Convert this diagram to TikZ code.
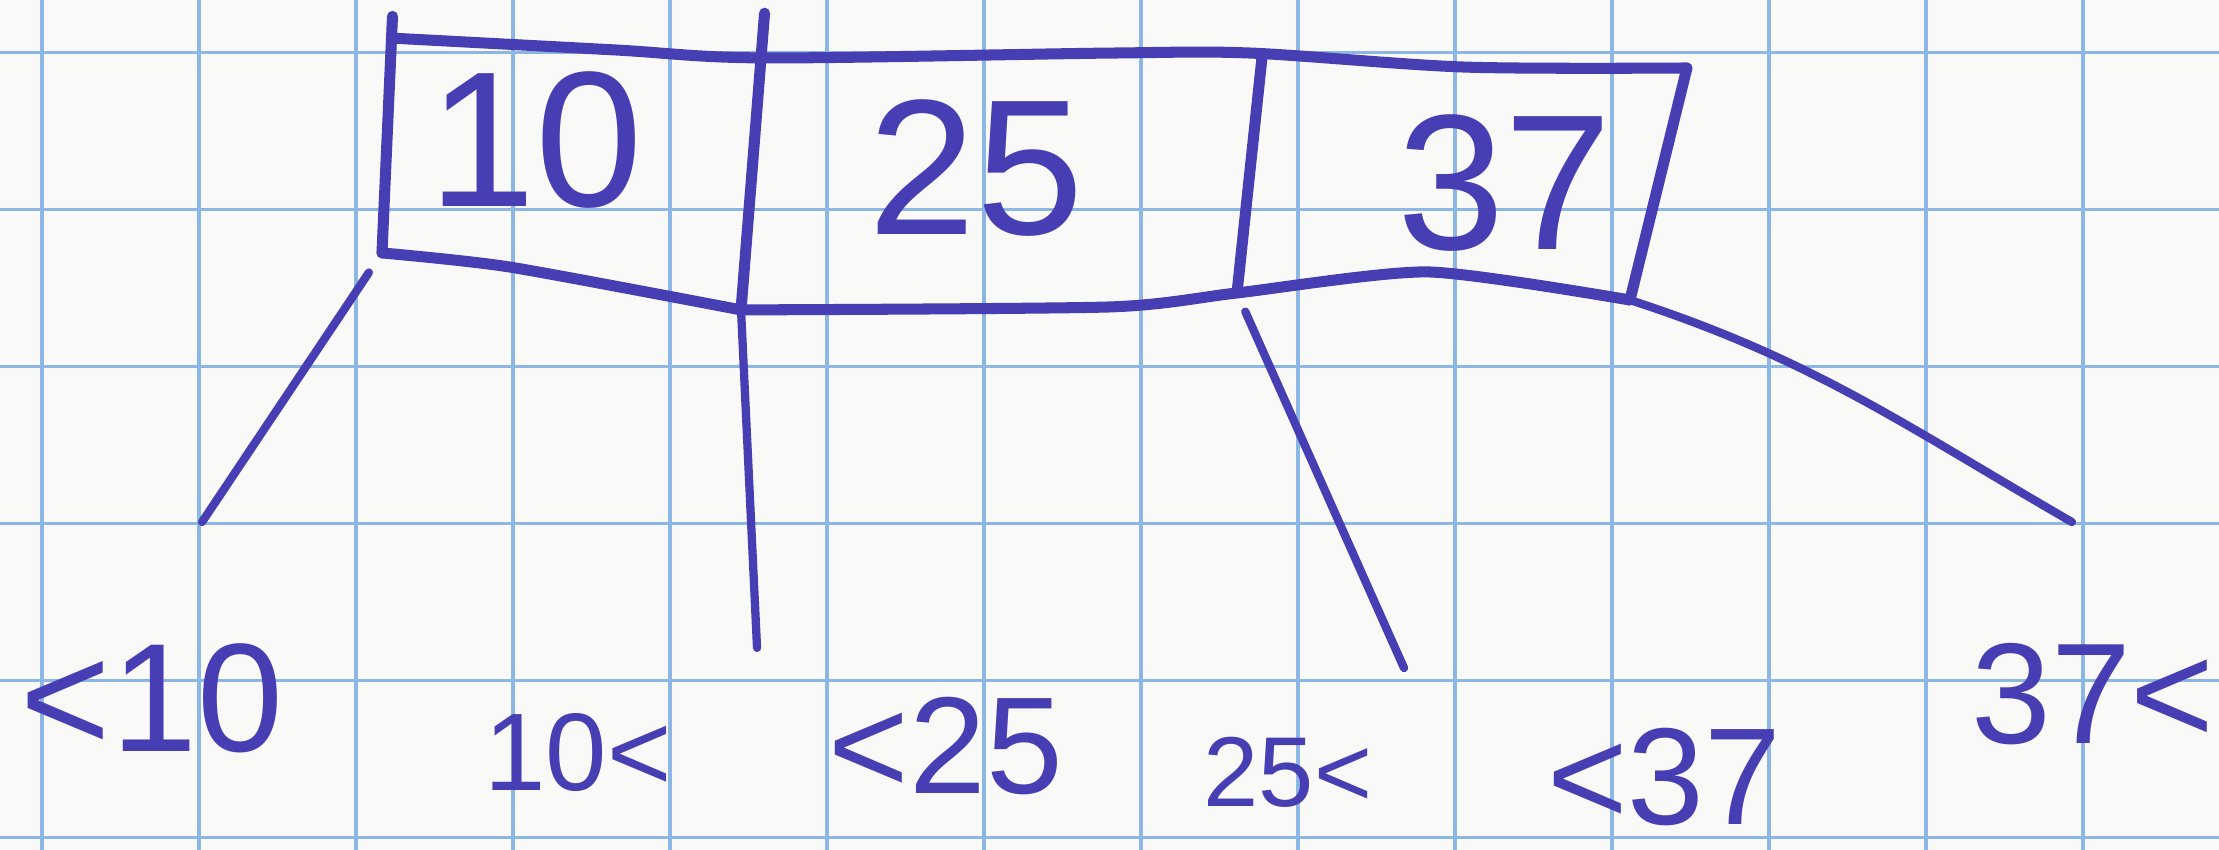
\documentclass[tikz,border=0pt]{standalone}
\usepackage{fontspec}
\setmainfont{Liberation Sans}
\usetikzlibrary{positioning}
\definecolor{ink}{RGB}{72,62,180}
\definecolor{gridblue}{RGB}{140,182,228}
\definecolor{paper}{RGB}{249,249,247}

\begin{document}
\begin{tikzpicture}[
    pen/.style={draw=ink, line width=2pt, line cap=round, line join=round},
    child/.style={draw=ink, line width=1.5pt, line cap=round},
    gridline/.style={draw=gridblue, line width=0.6pt},
    key/.style={text=ink, inner sep=0pt, font=\fontsize{35}{35}\selectfont},
    bound/.style={text=ink, inner sep=0pt, font=\fontsize{#1}{#1}\selectfont}
]
\fill[paper] (0,0) rectangle (14.134,5.414);
\useasboundingbox (0,0) rectangle (14.134,5.414);
\foreach \x in {0,...,13}
  \draw[gridline] (\x+0.268,0) -- (\x+0.268,5.414);
\foreach \y in {0,...,5}
  \draw[gridline] (0,\y+0.08) -- (14.134,\y+0.08);

\coordinate (ltick) at (2.50,5.31);
\coordinate (tl) at (2.52,5.17);
\coordinate (bl) at (2.433,3.803);
\coordinate (tr) at (10.745,4.981);
\coordinate (br) at (10.382,3.503);
\coordinate (d1t) at (4.87,5.33);
\coordinate (d1b) at (4.72,3.44);
\coordinate (d2t) at (8.038,5.045);
\coordinate (d2b) at (7.879,3.548);

\draw[pen] (ltick) -- (bl);
\draw[pen] plot[smooth, tension=0.5] coordinates {(tl) (3.917,5.096) (4.866,5.045) (7.07,5.076) (7.968,5.076) (9.325,4.987) (tr)};
\draw[pen] (tr) -- (br);
\draw[pen] plot[smooth, tension=0.4] coordinates {(bl) (3.248,3.713) (d1b)};
\draw[pen] plot[smooth, tension=0.4] coordinates {(d1b) (7.07,3.459) (d2b) (9.096,3.682) (br)};
\draw[pen] (d1t) -- (d1b);
\draw[pen] (d2t) -- (d2b);

\node[key] (k10) at (3.414,4.522) {10};
\node[key] (k25) at (6.217,4.344) {25};
\node[key] (k37) at (9.586,4.248) {37};

\coordinate (c1) at (1.287,2.089);
\coordinate (c2) at (4.822,1.287);
\coordinate (c3) at (8.943,1.159);
\coordinate (c4) at (13.197,2.089);

\draw[child, shorten <=0.15cm] (bl) -- (c1);
\draw[child] (d1b) -- (c2);
\draw[child, shorten <=0.13cm] (d2b) -- (c3);
\draw[child] (br) to[out=-18, in=150] (c4);

\node[bound=28] (lt10) at (0.968,0.968) {<10};
\node[bound=20] (gt10) at (3.682,0.624) {10<};
\node[bound=25] (lt25) at (6.025,0.662) {<25};
\node[bound=18] (gt25) at (8.204,0.497) {25<};
\node[bound=25] (lt37) at (10.599,0.465) {<37};
\node[bound=26] (gt37) at (13.331,0.994) {37<};
\end{tikzpicture}
\end{document}
